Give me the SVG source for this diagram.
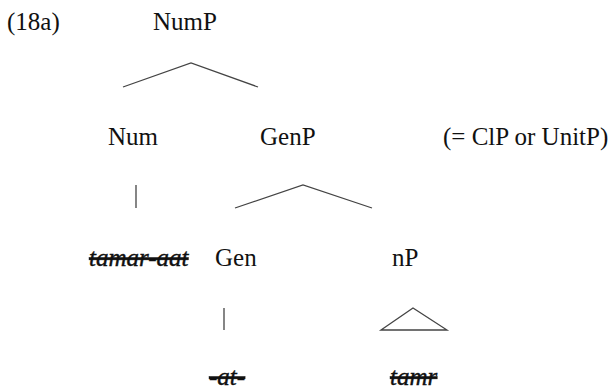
<svg xmlns="http://www.w3.org/2000/svg" width="611" height="391" viewBox="0 0 611 391">
  <style>
    text { font-family: "Liberation Serif", "Times New Roman", serif; font-size: 25px; fill: #111; }
    .struck { font-style: italic; text-decoration: line-through; stroke: #111; stroke-width: 0.4; }
    .edge { stroke: #444; stroke-width: 1.3; fill: none; }
  </style>
  <rect width="611" height="391" fill="#fff"/>
  <text x="7" y="30">(18a)</text>
  <g id="connectors">
    <polyline class="edge" points="123,87 191,63 258,87"/>
    <line class="edge" x1="136" y1="185" x2="136" y2="208"/>
    <polyline class="edge" points="235,208 303,185 372,208"/>
    <line class="edge" x1="224" y1="308" x2="224" y2="330"/>
    <polygon class="edge" points="381,330 413,308 447,330"/>
  </g>
  <g id="NumP"><text x="153" y="30">NumP</text></g>
  <g id="Num"><text x="108" y="145">Num</text></g>
  <g id="GenP"><text x="260" y="145">GenP</text></g>
  <g id="note"><text x="443" y="145">(= ClP or UnitP)</text></g>
  <g id="tamar-aat"><text class="struck" x="89" y="266">tamar-aat</text></g>
  <g id="Gen"><text x="215" y="266">Gen</text></g>
  <g id="nP"><text x="392" y="266">nP</text></g>
  <g id="at"><text class="struck" x="209" y="385">-at-</text></g>
  <g id="tamr"><text class="struck" x="390" y="385">tamr</text></g>
</svg>
